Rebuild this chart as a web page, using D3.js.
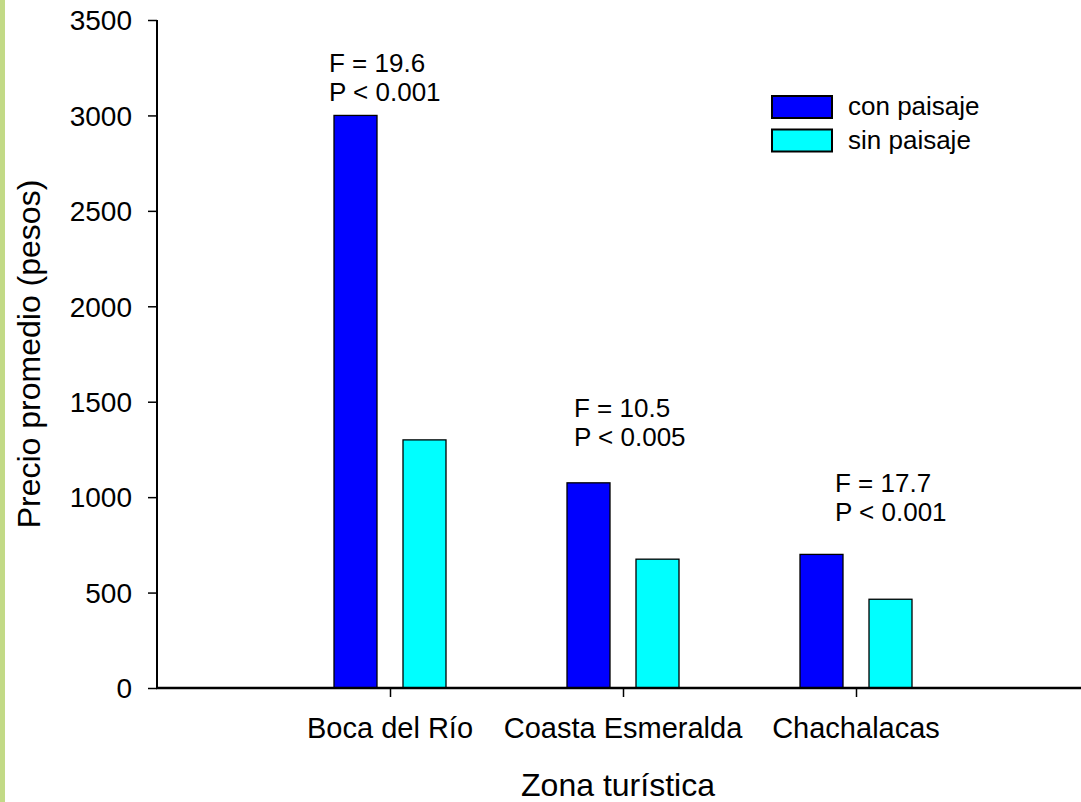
<!DOCTYPE html>
<html>
<head>
<meta charset="utf-8">
<script src="https://cdn.jsdelivr.net/npm/d3@7"></script>
<style>
  html, body { margin: 0; padding: 0; background: #fff; }
  svg { display: block; }
  text { font-family: "Liberation Sans", Arial, sans-serif; fill: #000; }
</style>
</head>
<body>
<svg id="chart" width="1081" height="802"></svg>
<script>
// Average price per tourist zone, with and without landscape view
const zones = ["Boca del Río", "Coasta Esmeralda", "Chachalacas"];
const conPaisaje = [3000, 1075, 700];
const sinPaisaje = [1300, 675, 465];
const seriesNames = ["con paisaje", "sin paisaje"];
const statF = ["F = 19.6", "F = 10.5", "F = 17.7"];
const statP = ["P < 0.001", "P < 0.005", "P < 0.001"];
const yTicks = [0, 500, 1000, 1500, 2000, 2500, 3000, 3500];

const colors = ["#0000ff", "#00ffff"];

const svg = d3.select("#chart");
const W = 1081, H = 802;

// left decorative strip
svg.append("rect").attr("x", 0).attr("y", 0).attr("width", 5).attr("height", H)
  .attr("fill", "#c2da86");

const x0 = 157, y0 = 688;
const x = d3.scaleLinear().domain([0, 4]).range([x0, 1089]);
const y = d3.scaleLinear().domain([0, 3500]).range([y0, 20]);

const barW = 43, gapHalf = 13;

// bars
const series = [conPaisaje, sinPaisaje];
series.forEach((vals, s) => {
  svg.append("g").selectAll("rect").data(vals).join("rect")
    .attr("x", (d, i) => s === 0 ? x(i + 1) - gapHalf - barW : x(i + 1) + gapHalf)
    .attr("y", d => y(d))
    .attr("width", barW)
    .attr("height", d => y0 - y(d))
    .attr("fill", colors[s])
    .attr("stroke", "#000")
    .attr("stroke-width", 1.3);
});

// y axis
const yAxis = svg.append("g").attr("transform", `translate(${x0},0)`)
  .call(d3.axisLeft(y).tickValues(yTicks).tickSize(9).tickPadding(16).tickFormat(d3.format("d")));
yAxis.select(".domain").attr("stroke", "#000").attr("stroke-width", 2)
  .attr("d", `M0,${y(3500)}V${y0}`);
yAxis.selectAll(".tick line").attr("stroke", "#000").attr("stroke-width", 1.5);
yAxis.selectAll(".tick text").attr("font-size", 28).attr("dy", "0.35em")
  .attr("font-family", "Liberation Sans, Arial, sans-serif");

// x axis
const xAxis = svg.append("g").attr("transform", `translate(0,${y0})`)
  .call(d3.axisBottom(x).tickValues([1, 2, 3]).tickSize(9).tickFormat(""));
xAxis.select(".domain").attr("stroke", "#000").attr("stroke-width", 2.5)
  .attr("d", `M${x0 - 1},0H${x(4)}`);
xAxis.selectAll(".tick line").attr("stroke", "#000").attr("stroke-width", 1.5);

// category labels
svg.append("g").selectAll("text").data(zones).join("text")
  .attr("x", (d, i) => x(i + 1))
  .attr("y", 738)
  .attr("text-anchor", "middle")
  .attr("font-size", 29)
  .text(d => d);

// axis titles
svg.append("text").attr("x", 618).attr("y", 796).attr("text-anchor", "middle")
  .attr("font-size", 32).text("Zona turística");
svg.append("text").attr("transform", "translate(40,354) rotate(-90)")
  .attr("text-anchor", "middle").attr("font-size", 32).text("Precio promedio (pesos)");

// ANOVA annotations above each group (offsets relative to group tick and tallest bar)
const annDx = [-61, -49, -21];
const annDy = [-43, -66, -62];
const ann = svg.append("g");
zones.forEach((z, i) => {
  const ax = x(i + 1) + annDx[i];
  const ay = y(Math.max(conPaisaje[i], sinPaisaje[i])) + annDy[i];
  ann.append("text").attr("x", ax).attr("y", ay).attr("font-size", 26).text(statF[i]);
  ann.append("text").attr("x", ax).attr("y", ay + 29).attr("font-size", 26).text(statP[i]);
});

// legend
const leg = svg.append("g").attr("transform", "translate(772,96)");
seriesNames.forEach((n, i) => {
  leg.append("rect").attr("x", 0).attr("y", i * 33.5).attr("width", 60).attr("height", 22)
    .attr("fill", colors[i]).attr("stroke", "#000").attr("stroke-width", 2);
  leg.append("text").attr("x", 76).attr("y", i * 33.5 + 19).attr("font-size", 26).text(n);
});
</script>
</body>
</html>
